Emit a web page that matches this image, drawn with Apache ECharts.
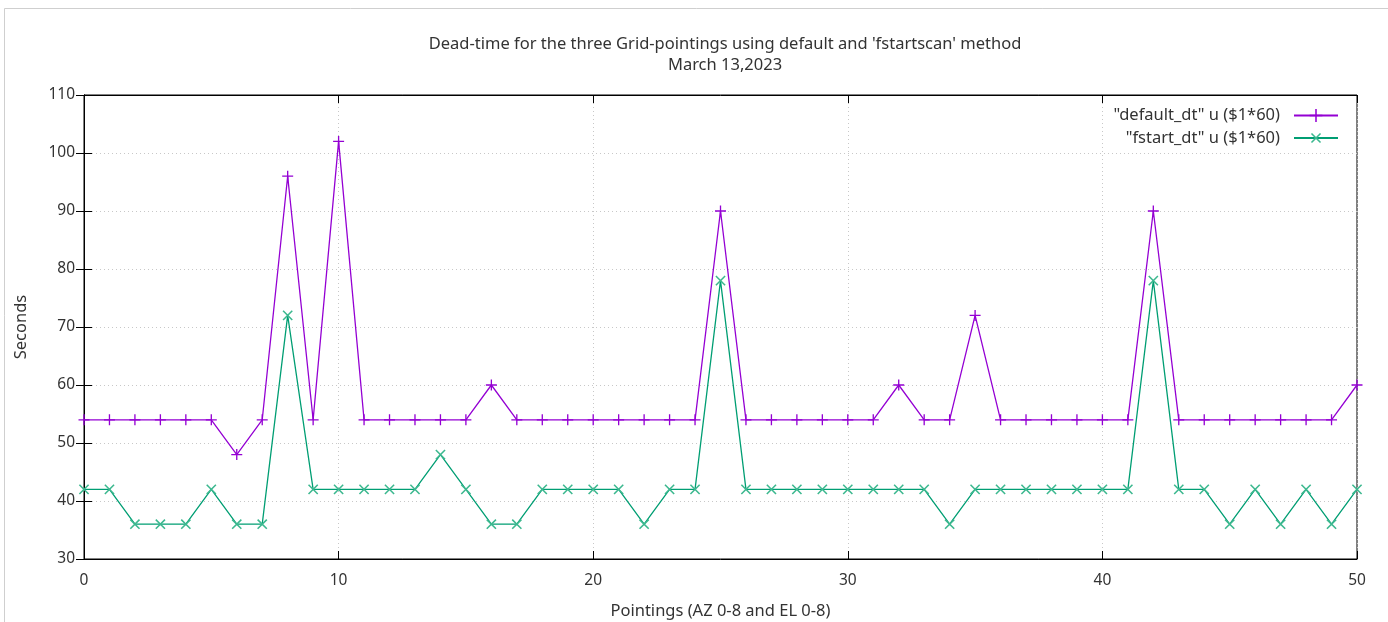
<!DOCTYPE html>
<html>
<head>
<meta charset="utf-8">
<script src="https://cdn.jsdelivr.net/npm/echarts@6/dist/echarts.min.js"></script>
<style>
html,body{margin:0;padding:0;background:#fff;}
#chart{width:1388px;height:622px;}
</style>
</head>
<body>
<div id="chart"></div>
<script>
const titleLines = ["Dead-time for the three Grid-pointings using default and 'fstartscan' method", "March 13,2023"];
const xAxisName = "Pointings (AZ 0-8 and EL 0-8)";
const yAxisName = "Seconds";
const seriesNames = ['"default_dt" u ($1*60)', '"fstart_dt" u ($1*60)'];
const pointings = [0,1,2,3,4,5,6,7,8,9,10,11,12,13,14,15,16,17,18,19,20,21,22,23,24,25,26,27,28,29,30,31,32,33,34,35,36,37,38,39,40,41,42,43,44,45,46,47,48,49,50];
const defaultDt = [54,54,54,54,54,54,48,54,96,54,102,54,54,54,54,54,60,54,54,54,54,54,54,54,54,90,54,54,54,54,54,54,60,54,54,72,54,54,54,54,54,54,90,54,54,54,54,54,54,54,60];
const fstartDt = [42,42,36,36,36,42,36,36,72,42,42,42,42,42,48,42,36,36,42,42,42,42,36,42,42,78,42,42,42,42,42,42,42,42,36,42,42,42,42,42,42,42,78,42,42,36,42,36,42,36,42];

const FONT = 'Noto Sans';
const FS = 16.5;
const FT = 15.5;
const TXT = '#333';
const plusPath = 'path://M0,8.8H20V11.2H0Z M8.8,0H11.2V20H8.8Z';

const chart = echarts.init(document.getElementById('chart'), null, {renderer:'canvas'});
const pairs = arr => pointings.map((p,i)=>[p, arr[i]]);

const gridLine = {show:true, lineStyle:{color:'#c8c8c8', type:[1,3], width:1}};
const tick = {show:true, inside:true, length:8, lineStyle:{color:'#000', width:1}};

chart.setOption({
  backgroundColor:'#fff',
  animation:false,
  title:{
    text: titleLines.join('\n'),
    left: 720, top: 29, textAlign:'center',
    textStyle:{fontFamily:FONT, fontSize:FS, fontWeight:'normal', color:TXT, lineHeight:21}
  },
  legend:{
    orient:'vertical', right:44, top:102, align:'right',
    itemWidth:44, itemHeight:16, itemGap:5,
    textStyle:{fontFamily:FONT, fontSize:FS, color:TXT, padding:[0,9,0,0]},
    data: seriesNames
  },
  graphic:[{type:'rect', shape:{x:4.5,y:8.5,width:1400,height:700}, style:{fill:'none', stroke:'#cfcfcf', lineWidth:1}, silent:true}],
  grid:{left:84, right:31, top:95, bottom:63, show:true, borderColor:'#000', borderWidth:1, containLabel:false, outerBoundsMode:'none'},
  xAxis:[{
    type:'value', min:0, max:50, interval:10,
    name:xAxisName, nameLocation:'middle', nameGap:44,
    nameTextStyle:{fontFamily:FONT, fontSize:FS, color:TXT},
    axisLine:{show:true, lineStyle:{color:'#000', width:1}},
    axisTick:tick, splitLine:gridLine,
    axisLabel:{fontFamily:FONT, fontSize:FT, color:TXT, margin:14}
  },{
    type:'value', min:0, max:50, interval:10, position:'top',
    axisLine:{show:true, lineStyle:{color:'#000'}}, axisTick:tick,
    axisLabel:{show:false}, splitLine:{show:false}
  }],
  yAxis:[{
    type:'value', min:30, max:110, interval:10,
    name:yAxisName, nameLocation:'middle', nameGap:54, nameRotate:90,
    nameTextStyle:{fontFamily:FONT, fontSize:FS, color:TXT},
    axisLine:{show:true, lineStyle:{color:'#000', width:1}},
    axisTick:tick, splitLine:gridLine,
    axisLabel:{fontFamily:FONT, fontSize:FT, color:TXT, margin:9}
  },{
    type:'value', min:30, max:110, interval:10, position:'right',
    axisLine:{show:true, lineStyle:{color:'#000'}}, axisTick:tick,
    axisLabel:{show:false}, splitLine:{show:false}
  }],
  series:[{
    name:seriesNames[0], type:'line', data:pairs(defaultDt),
    symbol:plusPath, symbolSize:11, showSymbol:true,
    lineStyle:{color:'#9400d3', width:1.3}, itemStyle:{color:'#9400d3'},
    emphasis:{disabled:true}
  },{
    name:seriesNames[1], type:'line', data:pairs(fstartDt),
    symbol:plusPath, symbolSize:13, symbolRotate:45, showSymbol:true,
    lineStyle:{color:'#009e73', width:1.3}, itemStyle:{color:'#3cb88f'},
    emphasis:{disabled:true}
  }]
});
</script>
</body>
</html>
